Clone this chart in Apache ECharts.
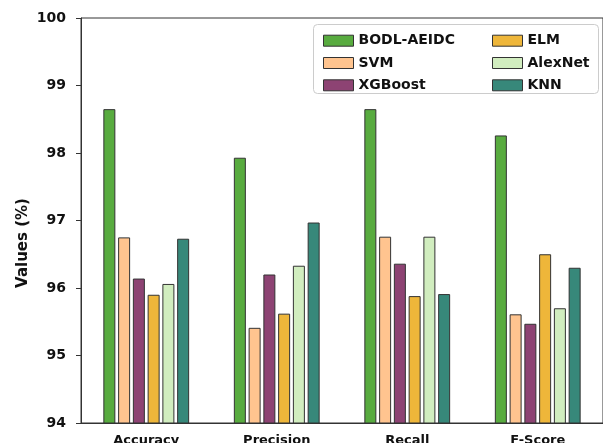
<!DOCTYPE html>
<html>
<head>
<meta charset="utf-8">
<script src="https://cdn.jsdelivr.net/npm/echarts@6/dist/echarts.min.js"></script>
<style>
  html, body { margin: 0; padding: 0; background: #fff; }
  #chart { width: 603px; height: 443px; }
</style>
</head>
<body>
<div id="chart"></div>
<script>
// Metric groups along the x axis
var categories = ['Accuracy', 'Precision', 'Recall', 'F-Score'];

// Model names (legend order)
var models = ['BODL-AEIDC', 'SVM', 'XGBoost', 'ELM', 'AlexNet', 'KNN'];

// Scores (%) per model, in category order
var bodlAeidc = [98.65, 97.93, 98.65, 98.26];
var svm       = [96.75, 95.41, 96.76, 95.61];
var xgboost   = [96.14, 96.20, 96.36, 95.47];
var elm       = [95.90, 95.62, 95.88, 96.50];
var alexnet   = [96.06, 96.33, 96.76, 95.70];
var knn       = [96.73, 96.97, 95.91, 96.30];

// Y axis range and step
var yMin = 94, yMax = 100, yStep = 1;

var seriesValues = [bodlAeidc, svm, xgboost, elm, alexnet, knn];
var colors = ['#58ab3f', '#ffc48f', '#8d4373', '#eeb63a', '#d1edbf', '#37887a'];

var FONT = 'DejaVu Sans';

var chart = echarts.init(document.getElementById('chart'), null, { renderer: 'canvas' });

var series = models.map(function (name, i) {
  return {
    name: name,
    type: 'bar',
    data: seriesValues[i],
    barWidth: 12,
    barGap: '23%',
    itemStyle: { color: colors[i], borderColor: '#333', borderWidth: 1 }
  };
});

var legendCommon = {
  orient: 'vertical',
  itemWidth: 30,
  itemHeight: 11,
  itemGap: 8.3,
  itemTextGap: 11,
  icon: 'rect',
  textStyle: { fontFamily: FONT, fontWeight: 'bold', fontSize: 14, color: '#111', lineHeight: 14 },
  itemStyle: { borderColor: '#333', borderWidth: 1 },
  selectedMode: false
};

chart.setOption({
  animation: false,
  backgroundColor: '#fff',
  color: colors,
  grid: {
    left: 81, top: 18, width: 522, bottom: 20,
    containLabel: false,
    outerBoundsMode: 'none',
    show: true, borderColor: '#333', borderWidth: 1, backgroundColor: 'transparent'
  },
  legend: [
    Object.assign({ left: 318, top: 28.7, data: models.slice(0, 3) }, legendCommon),
    Object.assign({ left: 487, top: 28.7, data: models.slice(3, 6) }, legendCommon)
  ],
  xAxis: {
    type: 'category',
    data: categories,
    axisLine: { lineStyle: { color: '#333', width: 1 } },
    axisTick: { alignWithLabel: true, length: 5, lineStyle: { color: '#333' } },
    axisLabel: { fontFamily: FONT, fontWeight: 'bold', fontSize: 13, color: '#111', margin: 11 }
  },
  yAxis: {
    type: 'value',
    min: yMin, max: yMax, interval: yStep,
    splitLine: { show: false },
    axisLine: { show: true, lineStyle: { color: '#333', width: 1 } },
    axisTick: { show: true, length: 5, lineStyle: { color: '#333' } },
    axisLabel: { fontFamily: FONT, fontWeight: 'bold', fontSize: 14, color: '#111', margin: 15 }
  },
  graphic: [
    {
      type: 'rect',
      z: -1,
      shape: { x: 313.5, y: 24.5, width: 285, height: 69, r: 4 },
      style: { fill: 'rgba(255,255,255,0.8)', stroke: '#cccccc', lineWidth: 1 }
    },
    {
      type: 'text',
      x: 23, y: 243,
      rotation: Math.PI / 2,
      style: {
        text: 'Values (%)',
        fontFamily: FONT, fontWeight: 'bold', fontSize: 15, fill: '#111',
        textAlign: 'center', textVerticalAlign: 'middle'
      }
    }
  ],
  series: series
});
</script>
</body>
</html>
